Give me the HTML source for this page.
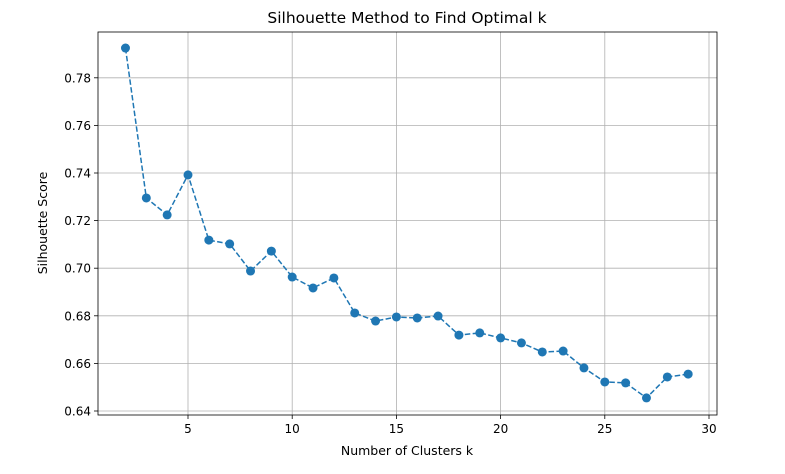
<!DOCTYPE html>
<html><head><meta charset="utf-8"><style>
body{margin:0;background:#fff;width:785px;height:469px;overflow:hidden;font-family:"Liberation Sans","DejaVu Sans",sans-serif}
text{font-family:"DejaVu Sans","Liberation Sans",sans-serif}
</style></head><body>
<svg id="chart" width="785" height="469" xmlns="http://www.w3.org/2000/svg">
<text x="407" y="23" text-anchor="middle" font-size="15.5" fill="#000">Silhouette Method to Find Optimal k</text>
<g id="grid"></g><g id="axes"></g><g id="series"></g>
<text x="407" y="455" text-anchor="middle" font-size="12.5">Number of Clusters k</text>
<text transform="translate(47,223) rotate(-90)" text-anchor="middle" font-size="12.5">Silhouette Score</text>
</svg>
<script>
const kValues=[2,3,4,5,6,7,8,9,10,11,12,13,14,15,16,17,18,19,20,21,22,23,24,25,26,27,28,29];
const scores=[0.7925,0.7295,0.7224,0.7392,0.7118,0.7102,0.6988,0.7072,0.6963,0.6917,0.6959,0.6812,0.6778,0.6795,0.6791,0.6799,0.6719,0.6728,0.6707,0.6686,0.6648,0.6652,0.6581,0.6522,0.6518,0.6455,0.6543,0.6555];
const xTicks=[5,10,15,20,25,30];
const yTicks=[0.64,0.66,0.68,0.70,0.72,0.74,0.76,0.78];
const L=98,R=717,T=32,B=415;
const xs=v=>188+(v-5)*20.84;
const ys=v=>411-(v-0.64)*2380;
const NS="http://www.w3.org/2000/svg";
function mk(tag,attrs,parent){const e=document.createElementNS(NS,tag);for(const k in attrs)e.setAttribute(k,attrs[k]);parent.appendChild(e);return e;}
const grid=document.getElementById('grid'),axes=document.getElementById('axes'),ser=document.getElementById('series');
xTicks.forEach(t=>{const x=xs(t);
 const g=mk('line',{x1:x,x2:x,y1:T,y2:B,stroke:'#b0b0b0','stroke-width':0.8},grid);
 
 mk('line',{x1:x,x2:x,y1:B,y2:B+4,stroke:'#000','stroke-width':0.8},axes);
 const tx=mk('text',{x:x,y:B+18,'text-anchor':'middle','font-size':12},axes);tx.textContent=t;
 });
yTicks.forEach(t=>{const y=ys(t);
 const g=mk('line',{x1:L,x2:R,y1:y,y2:y,stroke:'#b0b0b0','stroke-width':0.8},grid);
 
 mk('line',{x1:L-4,x2:L,y1:y,y2:y,stroke:'#000','stroke-width':0.8},axes);
 const tx=mk('text',{x:L-7,y:y+4.5,'text-anchor':'end','font-size':12},axes);tx.textContent=t.toFixed(2);
 });
const frame=mk('rect',{x:L,y:T,width:R-L,height:B-T,fill:'none',stroke:'#000','stroke-width':0.8},axes);

const pts=kValues.map((k,i)=>xs(k)+','+ys(scores[i])).join(' ');
const line=mk('polyline',{points:pts,fill:'none',stroke:'#1f77b4','stroke-width':1.5,'stroke-dasharray':'5.5,2.4'},ser);

kValues.forEach((k,i)=>{const c=mk('circle',{cx:xs(k),cy:ys(scores[i]),r:4.5,fill:'#1f77b4'},ser);
 });
</script>
</body></html>
